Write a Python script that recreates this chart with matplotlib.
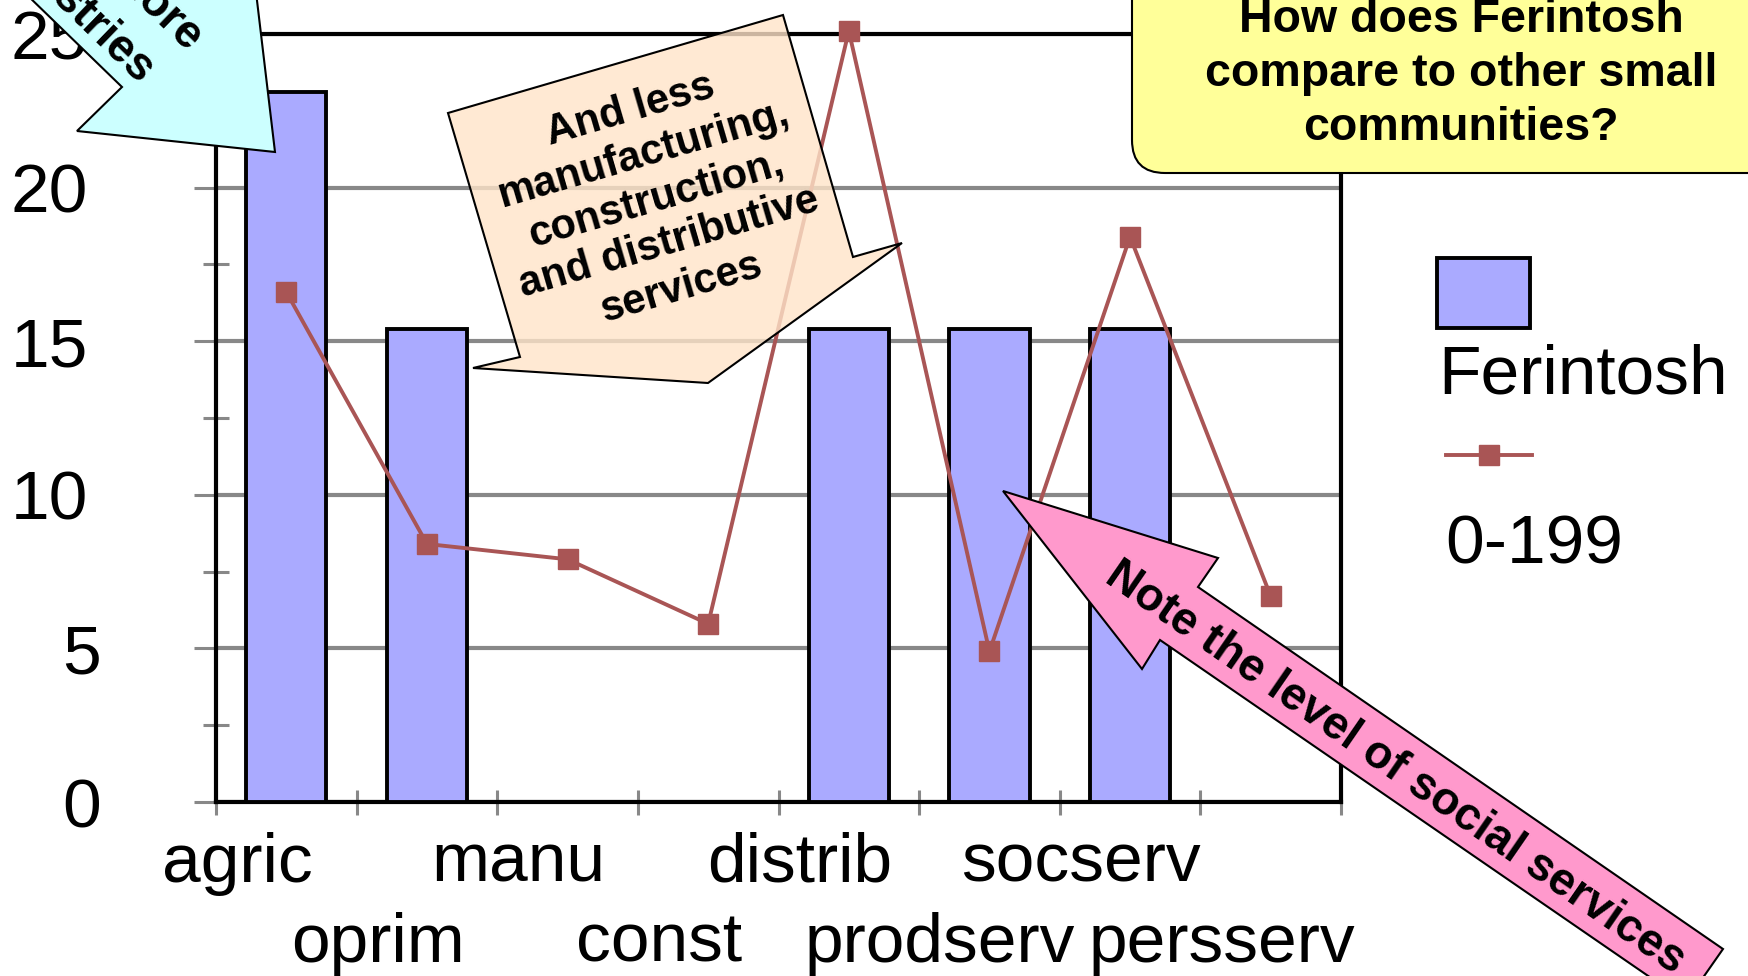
import matplotlib
matplotlib.use('Agg')
import matplotlib.pyplot as plt
import numpy as np
from matplotlib.patches import Polygon, FancyBboxPatch, Rectangle
from matplotlib.lines import Line2D
from matplotlib.transforms import IdentityTransform, blended_transform_factory, ScaledTranslation

plt.rcParams['font.family'] = ['Liberation Sans', 'DejaVu Sans']

# data (share of employment, %)
categories = ['agric', 'oprim', 'manu', 'const', 'distrib', 'prodserv', 'socserv', 'persserv']
ferintosh = [23.1, 15.4, 0, 0, 15.4, 15.4, 15.4, 0]
size_0_199 = [16.6, 8.4, 7.9, 5.8, 25.1, 4.9, 18.4, 6.7]
yticks = [0, 5, 10, 15, 20, 25]

bar_color = '#AAAAFF'
line_color = '#A95555'

W, H = 1749, 976
fig = plt.figure(figsize=(W / 100, H / 100), dpi=100)
ax = fig.add_axes([216 / W, 1 - 802 / H, (1341 - 216) / W, (802 - 34) / H])

x = np.arange(len(categories))
ax.bar(x, ferintosh, width=0.57, color=bar_color, edgecolor='black', linewidth=2.8, zorder=3)
ax.plot(x, size_0_199, color=line_color, lw=2.8, marker='s', ms=15, zorder=4, clip_on=False)

ax.set_xlim(-0.5, len(categories) - 0.5)
ax.set_ylim(0, 25)
ax.set_yticks(yticks)
ax.set_yticklabels([str(t) for t in yticks])
ax.set_yticks(np.arange(2.5, 25, 5), minor=True)
ax.yaxis.grid(True, which='major', color='#888888', lw=3)
ax.set_axisbelow(True)
ax.tick_params(axis='y', which='major', direction='out', length=16, width=2.2,
               color='#888888', pad=76, labelsize=50)
ax.tick_params(axis='y', which='minor', direction='inout', length=19, width=2.2, color='#888888')
# single digit labels sit a little further right, as in the original
for lbl in ax.get_yticklabels():
    if len(lbl.get_text()) == 1:
        lbl.set_transform(lbl.get_transform() + ScaledTranslation(0.13, 0, fig.dpi_scale_trans))
ax.set_xticks([])
ax.set_xticks(np.arange(-0.5, len(categories), 1), minor=True)
ax.tick_params(axis='x', which='minor', direction='inout', length=18, width=2.2, color='#888888')
for s in ax.spines.values():
    s.set_linewidth(3)
    s.set_color('black')

# staggered category labels
trans = blended_transform_factory(ax.transData, ax.transAxes)
for i, lab in enumerate(categories):
    yy = -0.104 if i % 2 == 0 else -0.208
    ax.text(i - 0.35, yy, lab, transform=trans, ha='center', va='baseline', fontsize=50)

ident = IdentityTransform()


def px(xp, yp):
    return (xp, H - yp)


# legend (handles stacked above labels)
fig.add_artist(Rectangle(px(1437, 328), 93, 70, transform=ident, facecolor=bar_color,
                         edgecolor='black', lw=2.8))
fig.text(*px(1438, 393), 'Ferintosh', transform=ident, fontsize=50, ha='left', va='baseline')
fig.add_artist(Line2D([1446, 1532], [H - 455, H - 455], transform=ident, color=line_color, lw=2.8))
fig.add_artist(Line2D([1489], [H - 455], transform=ident, color=line_color, marker='s', ms=15, lw=0))
fig.text(*px(1445, 563), '0-199', transform=ident, fontsize=50, ha='left', va='baseline')

# cyan callout arrow (top-left, mostly off the page)
fig.add_artist(Polygon([px(-40, -70), px(122, 87), px(77, 131), px(275, 152), px(251, -50)],
                       closed=True, transform=ident, fc='#CCFFFF', ec='black', lw=1.5))
fig.text(*px(187, 52), 'Ferintosh has more', transform=ident, rotation=-44, rotation_mode='anchor',
         ha='right', va='baseline', fontsize=33, fontweight='bold')
fig.text(*px(139, 84), 'primary industries', transform=ident, rotation=-44, rotation_mode='anchor',
         ha='right', va='baseline', fontsize=33, fontweight='bold')

# peach callout (semi transparent)
fig.add_artist(Polygon([px(448, 113), px(783, 15), px(853, 257), px(902, 243), px(708, 383),
                        px(473, 368), px(520, 357)],
                       closed=True, transform=ident, fc=(1, 0.894, 0.788, 0.8), ec='black', lw=1.5))
fig.text(*px(656, 199), 'And less\nmanufacturing,\nconstruction,\nand distributive\nservices',
         transform=ident, rotation=16.3, rotation_mode='anchor', ha='center', va='center',
         multialignment='center', fontsize=30, fontweight='bold', linespacing=1.2)

# yellow question box
fig.add_artist(FancyBboxPatch((1132, H - 173), 700, 300, boxstyle='round,pad=0,rounding_size=33',
                              transform=ident, fc='#FFFF99', ec='black', lw=1.5))
fig.text(*px(1461, 74), 'How does Ferintosh\ncompare to other small\ncommunities?', transform=ident,
         ha='center', va='center', multialignment='center', fontsize=33.5, fontweight='bold',
         linespacing=1.3)

# pink arrow
fig.add_artist(Polygon([px(1003, 491), px(1218, 558), px(1198, 587), px(1723, 949), px(1686, 1002),
                        px(1160, 640), px(1142, 669)],
                       closed=True, transform=ident, fc='#FF99CC', ec='black', lw=1.5))
fig.text(*px(1395, 768), 'Note the level of social services', transform=ident, rotation=-34.6,
         rotation_mode='anchor', ha='center', va='center', fontsize=33, fontweight='bold')

fig.savefig('out.png', dpi=100)
